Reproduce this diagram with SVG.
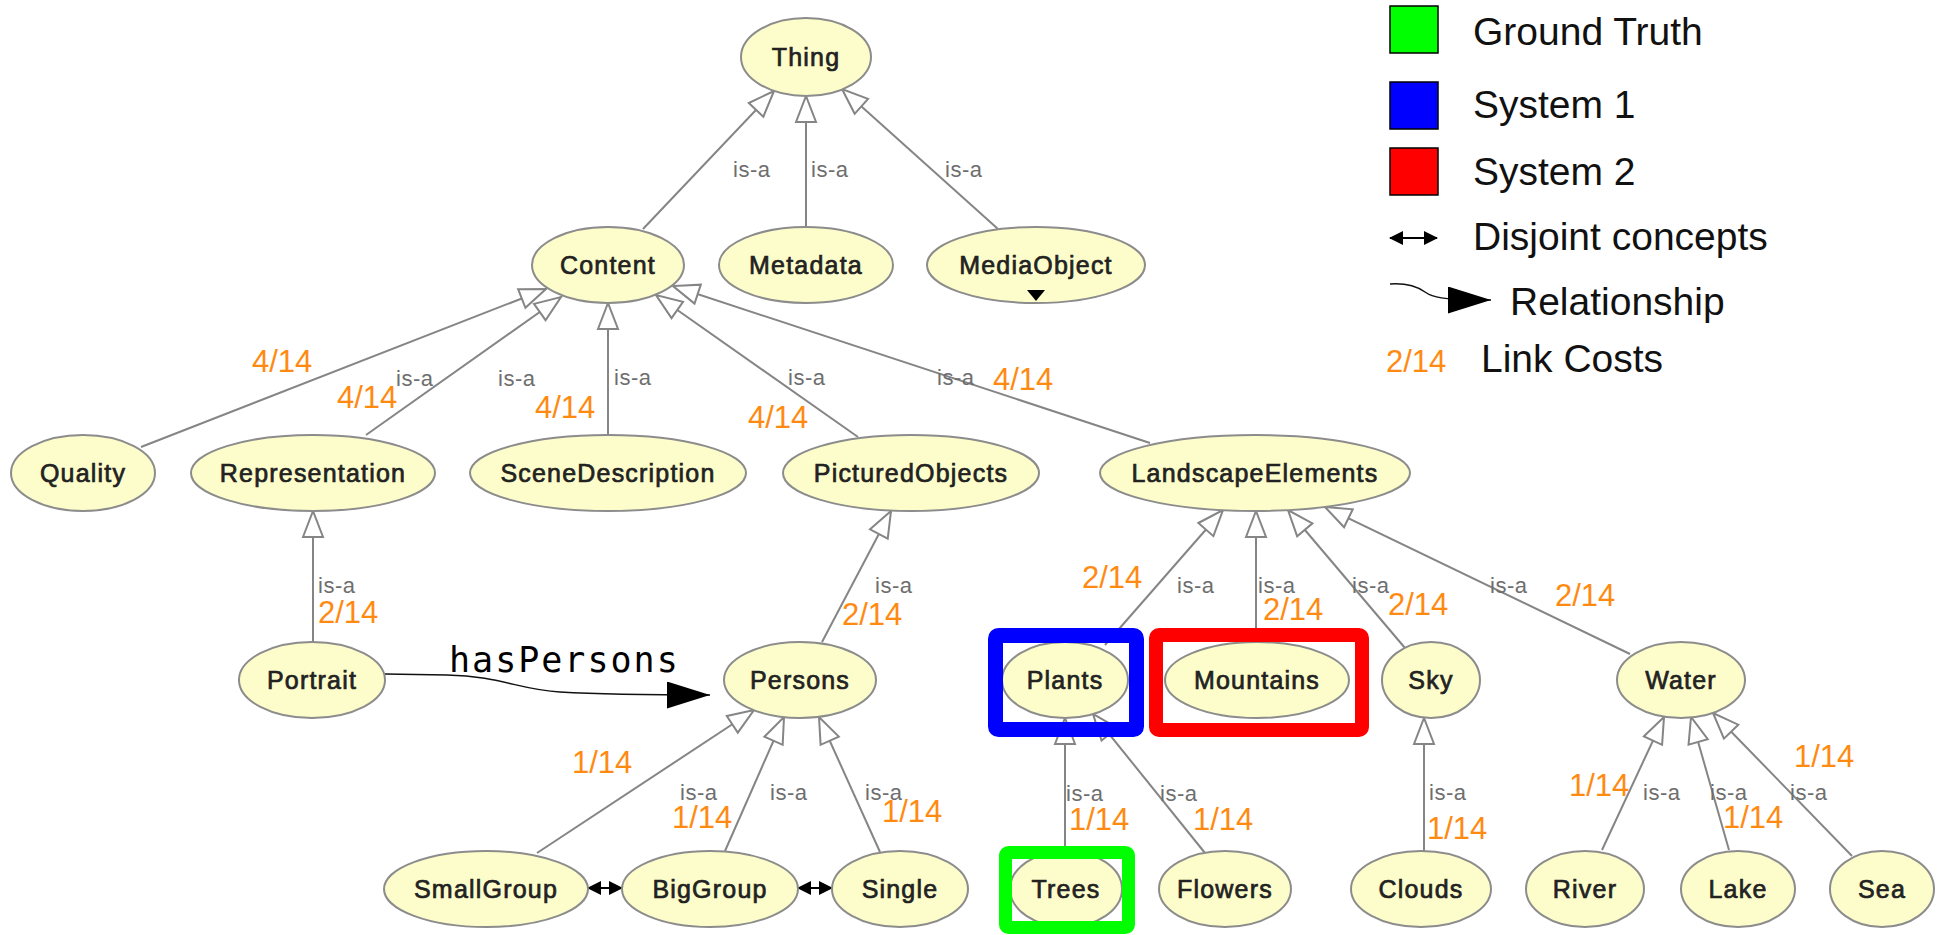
<svg xmlns="http://www.w3.org/2000/svg" width="1937" height="935" viewBox="0 0 1937 935">
<defs>
<style>
.nd ellipse{fill:#FDFDCB;stroke:#8C8C8C;stroke-width:2}
.nd text{font-family:"Liberation Sans",Arial,sans-serif;font-size:25px;fill:#222;stroke:#222;stroke-width:0.7px;text-anchor:middle;letter-spacing:1.2px}
.e{fill:none;stroke:#858585;stroke-width:2;marker-end:url(#isa)}
.dj{fill:none;stroke:#000;stroke-width:2;marker-start:url(#djm);marker-end:url(#djm)}
.rel{fill:none;stroke:#111;stroke-width:1.5;marker-end:url(#relm)}
.isa{font-family:"Liberation Sans",Arial,sans-serif;font-size:22px;fill:#6E6E6E;letter-spacing:0.5px}
.c{font-family:"Liberation Sans",Arial,sans-serif;font-size:31px;fill:#FF8A12}
.lg{font-family:"Liberation Sans",Arial,sans-serif;font-size:39px;fill:#111}
.box{fill:none;stroke-linejoin:round}
</style>
<marker id="isa" markerUnits="userSpaceOnUse" markerWidth="30" markerHeight="24" viewBox="0 0 30 24" refX="28" refY="12" orient="auto"><path d="M2,2 L28,12 L2,22 Z" fill="#fff" stroke="#858585" stroke-width="2"/></marker>
<marker id="djm" markerUnits="userSpaceOnUse" markerWidth="14" markerHeight="14" viewBox="0 0 14 14" refX="13" refY="7" orient="auto-start-reverse"><path d="M0,0 L14,7 L0,14 Z" fill="#000"/></marker>
<marker id="relm" markerUnits="userSpaceOnUse" markerWidth="43" markerHeight="27" viewBox="0 0 43 27" refX="43" refY="13.5" orient="auto"><path d="M0,0 L43,13.5 L0,27 Z" fill="#000"/></marker>
</defs>
<rect width="1937" height="935" fill="#fff"/>

<g id="connectors">
<path class="e" d="M643,229 L774,91"/>
<path class="e" d="M806,227 L806,96"/>
<path class="e" d="M998,229 L842,89"/>
<path class="e" d="M141,447 L546,289"/>
<path class="e" d="M366,435 L561,297"/>
<path class="e" d="M608,435 L608,303"/>
<path class="e" d="M858,437 L656,295"/>
<path class="e" d="M1150,443 L673,286"/>
<path class="e" d="M313,642 L313,511"/>
<path class="e" d="M822,642 L891,511"/>
<path class="e" d="M1105,645 L1223,510"/>
<path class="e" d="M1256,642 L1256,511"/>
<path class="e" d="M1405,648 L1288,510"/>
<path class="e" d="M1630,654 L1325,507"/>
<path class="e" d="M537,853 L754,710"/>
<path class="e" d="M725,851 L784,717"/>
<path class="e" d="M880,852 L819,717"/>
<path class="e" d="M1065,851 L1065,718"/>
<path class="e" d="M1205,853 L1093,714"/>
<path class="e" d="M1424,851 L1424,718"/>
<path class="e" d="M1602,850 L1664,717"/>
<path class="e" d="M1729,850 L1691,717"/>
<path class="e" d="M1852,856 L1713,713"/>
<path class="dj" d="M588,888 L622,888"/>
<path class="dj" d="M798,888 L832,888"/>
<path class="rel" d="M385,674 L447,675 C500,676 520,690 560,692 C610,695 660,695 710,695"/>
</g>

<g id="edge-labels">
<text class="isa" x="733" y="177">is-a</text>
<text class="isa" x="811" y="177">is-a</text>
<text class="isa" x="945" y="177">is-a</text>
<text class="isa" x="396" y="386">is-a</text>
<text class="isa" x="498" y="386">is-a</text>
<text class="isa" x="614" y="385">is-a</text>
<text class="isa" x="788" y="385">is-a</text>
<text class="isa" x="937" y="385">is-a</text>
<text class="isa" x="318" y="593">is-a</text>
<text class="isa" x="875" y="593">is-a</text>
<text class="isa" x="1177" y="593">is-a</text>
<text class="isa" x="1258" y="593">is-a</text>
<text class="isa" x="1352" y="593">is-a</text>
<text class="isa" x="1490" y="593">is-a</text>
<text class="isa" x="680" y="800">is-a</text>
<text class="isa" x="770" y="800">is-a</text>
<text class="isa" x="865" y="800">is-a</text>
<text class="isa" x="1066" y="801">is-a</text>
<text class="isa" x="1160" y="801">is-a</text>
<text class="isa" x="1429" y="800">is-a</text>
<text class="isa" x="1643" y="800">is-a</text>
<text class="isa" x="1710" y="800">is-a</text>
<text class="isa" x="1790" y="800">is-a</text>
<text class="c" x="252" y="372">4/14</text>
<text class="c" x="337" y="408">4/14</text>
<text class="c" x="535" y="418">4/14</text>
<text class="c" x="748" y="428">4/14</text>
<text class="c" x="993" y="390">4/14</text>
<text class="c" x="318" y="623">2/14</text>
<text class="c" x="842" y="625">2/14</text>
<text class="c" x="1082" y="588">2/14</text>
<text class="c" x="1263" y="620">2/14</text>
<text class="c" x="1388" y="615">2/14</text>
<text class="c" x="1555" y="606">2/14</text>
<text class="c" x="572" y="773">1/14</text>
<text class="c" x="672" y="828">1/14</text>
<text class="c" x="882" y="822">1/14</text>
<text class="c" x="1069" y="830">1/14</text>
<text class="c" x="1193" y="830">1/14</text>
<text class="c" x="1427" y="839">1/14</text>
<text class="c" x="1569" y="796">1/14</text>
<text class="c" x="1723" y="828">1/14</text>
<text class="c" x="1794" y="767">1/14</text>
<text x="449" y="672" font-family="'DejaVu Sans Mono',monospace" font-size="35" letter-spacing="2" fill="#000">hasPersons</text>
</g>

<g id="n-Thing" class="nd"><ellipse cx="806" cy="57" rx="65" ry="39"/><text x="806" y="66">Thing</text></g>
<g id="n-Content" class="nd"><ellipse cx="608" cy="265" rx="76" ry="38"/><text x="608" y="274">Content</text></g>
<g id="n-Metadata" class="nd"><ellipse cx="806" cy="265" rx="87" ry="38"/><text x="806" y="274">Metadata</text></g>
<g id="n-MediaObject" class="nd"><ellipse cx="1036" cy="265" rx="109" ry="38"/><text x="1036" y="274">MediaObject</text><polygon points="1027,290 1045,290 1036,301" fill="#000"/></g>
<g id="n-Quality" class="nd"><ellipse cx="83" cy="473" rx="72" ry="38"/><text x="83" y="482">Quality</text></g>
<g id="n-Representation" class="nd"><ellipse cx="313" cy="473" rx="122" ry="38"/><text x="313" y="482">Representation</text></g>
<g id="n-SceneDescription" class="nd"><ellipse cx="608" cy="473" rx="138" ry="38"/><text x="608" y="482">SceneDescription</text></g>
<g id="n-PicturedObjects" class="nd"><ellipse cx="911" cy="473" rx="128" ry="38"/><text x="911" y="482">PicturedObjects</text></g>
<g id="n-LandscapeElements" class="nd"><ellipse cx="1255" cy="473" rx="155" ry="38"/><text x="1255" y="482">LandscapeElements</text></g>
<g id="n-Portrait" class="nd"><ellipse cx="312" cy="680" rx="73" ry="38"/><text x="312" y="689">Portrait</text></g>
<g id="n-Persons" class="nd"><ellipse cx="800" cy="680" rx="76" ry="38"/><text x="800" y="689">Persons</text></g>
<g id="n-Plants" class="nd"><ellipse cx="1065" cy="680" rx="63" ry="38"/><text x="1065" y="689">Plants</text></g>
<g id="n-Mountains" class="nd"><ellipse cx="1257" cy="680" rx="92" ry="38"/><text x="1257" y="689">Mountains</text></g>
<g id="n-Sky" class="nd"><ellipse cx="1431" cy="680" rx="49" ry="38"/><text x="1431" y="689">Sky</text></g>
<g id="n-Water" class="nd"><ellipse cx="1681" cy="680" rx="64" ry="38"/><text x="1681" y="689">Water</text></g>
<g id="n-SmallGroup" class="nd"><ellipse cx="486" cy="889" rx="102" ry="38"/><text x="486" y="898">SmallGroup</text></g>
<g id="n-BigGroup" class="nd"><ellipse cx="710" cy="889" rx="88" ry="38"/><text x="710" y="898">BigGroup</text></g>
<g id="n-Single" class="nd"><ellipse cx="900" cy="889" rx="68" ry="38"/><text x="900" y="898">Single</text></g>
<g id="n-Trees" class="nd"><ellipse cx="1066" cy="889" rx="56" ry="38"/><text x="1066" y="898">Trees</text></g>
<g id="n-Flowers" class="nd"><ellipse cx="1225" cy="889" rx="66" ry="38"/><text x="1225" y="898">Flowers</text></g>
<g id="n-Clouds" class="nd"><ellipse cx="1421" cy="889" rx="70" ry="38"/><text x="1421" y="898">Clouds</text></g>
<g id="n-River" class="nd"><ellipse cx="1585" cy="889" rx="59" ry="38"/><text x="1585" y="898">River</text></g>
<g id="n-Lake" class="nd"><ellipse cx="1738" cy="889" rx="57" ry="38"/><text x="1738" y="898">Lake</text></g>
<g id="n-Sea" class="nd"><ellipse cx="1882" cy="889" rx="52" ry="38"/><text x="1882" y="898">Sea</text></g>

<g id="highlights">
<rect class="box" x="995.5" y="635.5" width="141" height="94" rx="3" stroke="#0000FF" stroke-width="15"/>
<rect class="box" x="1156" y="635" width="206" height="95" rx="3" stroke="#FF0000" stroke-width="14"/>
<rect class="box" x="1005.5" y="852.5" width="123" height="75" rx="3" stroke="#00FF00" stroke-width="13"/>
</g>

<g id="legend">
<rect x="1390" y="6" width="48" height="47" fill="#00FF00" stroke="#000" stroke-width="1.5"/>
<rect x="1390" y="82" width="48" height="47" fill="#0000FF" stroke="#000" stroke-width="1.5"/>
<rect x="1390" y="148" width="48" height="47" fill="#FF0000" stroke="#000" stroke-width="1.5"/>
<path class="dj" d="M1390,238 L1437,238"/>
<path class="rel" d="M1390,284 C1405,283 1415,285 1425,292 C1432,297 1440,300 1491,300"/>
<text class="lg" x="1473" y="45">Ground Truth</text>
<text class="lg" x="1473" y="118">System 1</text>
<text class="lg" x="1473" y="185">System 2</text>
<text class="lg" x="1473" y="250">Disjoint concepts</text>
<text class="lg" x="1510" y="315">Relationship</text>
<text class="c" x="1386" y="372">2/14</text>
<text class="lg" x="1481" y="372">Link Costs</text>
</g>
</svg>
